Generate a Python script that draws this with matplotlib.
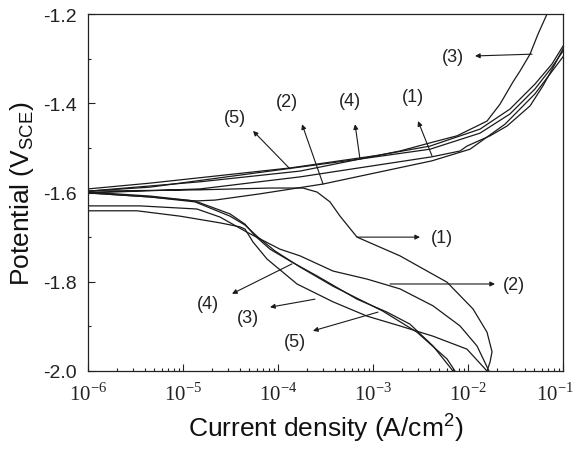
import matplotlib
matplotlib.use('Agg')
import matplotlib.pyplot as plt
import matplotlib.transforms as mtransforms
import numpy as np
from matplotlib.ticker import LogLocator, FuncFormatter, MultipleLocator

plt.rcParams['font.family'] = ['Liberation Sans', 'DejaVu Sans']
plt.rcParams['axes.unicode_minus'] = False
plt.rcParams['mathtext.fontset'] = 'custom'
plt.rcParams['mathtext.rm'] = 'Liberation Serif'
plt.rcParams['mathtext.sf'] = 'Liberation Sans'

# log10 of current density (A/cm2) and potential (V vs SCE), cathodic branch then anodic branch
logi_1 = [-1.800, -1.768, -1.747, -1.800, -1.947, -2.221, -2.716, -3.168, -3.347, -3.453, -3.589, -3.737, -4.084, -4.821, -6.0,
          -6.0, -4.821, -3.768, -2.379, -2.084, -2.011, -1.768, -1.589, -1.347, -1.211, -1.084, -1.0]
e_1 = [-2.000, -1.980, -1.957, -1.913, -1.861, -1.801, -1.742, -1.700, -1.653, -1.621, -1.599, -1.590, -1.590, -1.594, -1.597,
       -1.601, -1.592, -1.565, -1.520, -1.507, -1.496, -1.473, -1.451, -1.406, -1.361, -1.312, -1.278]

logi_2 = [-1.779, -1.905, -2.084, -2.368, -2.716, -3.063, -3.421, -3.768, -3.979, -4.326, -4.611, -4.853, -5.453, -6.0,
          -6.0, -5.347, -4.874, -4.663, -4.189, -3.526, -2.379, -1.979, -1.611, -1.295, -1.0]
e_2 = [-2.000, -1.944, -1.899, -1.854, -1.816, -1.794, -1.776, -1.742, -1.727, -1.689, -1.655, -1.637, -1.630, -1.630,
       -1.601, -1.610, -1.619, -1.617, -1.603, -1.581, -1.529, -1.503, -1.447, -1.379, -1.296]

logi_3 = [-1.800, -2.011, -2.368, -2.716, -3.063, -3.421, -3.800, -4.116, -4.263, -4.347, -4.400, -4.611, -5.032, -5.484, -6.0,
          -6.0, -4.821, -3.768, -2.716, -2.368, -2.116, -1.800, -1.663, -1.526, -1.453, -1.347, -1.263, -1.168]
e_3 = [-2.000, -1.951, -1.922, -1.899, -1.877, -1.845, -1.805, -1.749, -1.711, -1.682, -1.677, -1.668, -1.653, -1.641, -1.641,
       -1.597, -1.576, -1.552, -1.507, -1.487, -1.473, -1.440, -1.402, -1.352, -1.328, -1.290, -1.245, -1.200]

logi_4 = [-2.158, -2.368, -2.611, -2.853, -3.168, -3.589, -3.853, -4.084, -4.242, -4.347, -4.505, -4.874, -5.347, -6.0,
          -6.0, -5.347, -3.137, -2.400, -1.874, -1.558, -1.295, -1.116, -1.0]
e_4 = [-2.000, -1.944, -1.895, -1.868, -1.839, -1.787, -1.756, -1.727, -1.697, -1.671, -1.648, -1.619, -1.608, -1.599,
       -1.597, -1.588, -1.525, -1.503, -1.467, -1.424, -1.368, -1.319, -1.283]

logi_5 = [-2.137, -2.221, -2.537, -2.895, -3.421, -3.768, -4.032, -4.211, -4.347, -4.505, -4.874, -5.347, -6.0,
          -6.0, -5.347, -3.874, -2.926, -2.400, -1.874, -1.558, -1.295, -1.116, -1.0]
e_5 = [-2.000, -1.973, -1.913, -1.866, -1.810, -1.767, -1.731, -1.700, -1.673, -1.653, -1.621, -1.610, -1.601,
       -1.592, -1.579, -1.545, -1.516, -1.496, -1.458, -1.413, -1.357, -1.312, -1.272]

curves = [(logi_1, e_1), (logi_2, e_2), (logi_3, e_3), (logi_4, e_4), (logi_5, e_5)]

# labels: (text, arrow tail on curve, arrow head, label position) in (log10 i, E)
labels = [
    ('(5)', (-3.874, -1.547), (-4.263, -1.462), (-4.453, -1.433)),
    ('(2)', (-3.526, -1.581), (-3.747, -1.447), (-3.905, -1.397)),
    ('(4)', (-3.137, -1.525), (-3.189, -1.447), (-3.242, -1.393)),
    ('(1)', (-2.379, -1.518), (-2.526, -1.440), (-2.579, -1.384)),
    ('(3)', (-1.326, -1.290), (-1.926, -1.294), (-2.158, -1.296)),
    ('(1)', (-3.168, -1.700), (-2.505, -1.700), (-2.274, -1.700)),
    ('(2)', (-2.821, -1.805), (-1.716, -1.805), (-1.516, -1.807)),
    ('(4)', (-3.853, -1.760), (-4.484, -1.827), (-4.737, -1.848)),
    ('(3)', (-3.611, -1.839), (-4.084, -1.857), (-4.316, -1.879)),
    ('(5)', (-2.947, -1.868), (-3.632, -1.910), (-3.821, -1.933)),
]

fig = plt.figure(figsize=(5.78, 4.52), dpi=100)
ax = fig.add_axes([88 / 578, 80 / 452, 475 / 578, 357 / 452])

for lg, e in curves:
    ax.plot(10 ** np.array(lg), e, color='#1a1a1a', lw=0.9)

for txt, tail, head, pos in labels:
    ax.annotate('', xy=(10 ** head[0], head[1]), xytext=(10 ** tail[0], tail[1]),
                arrowprops=dict(arrowstyle='-|>', color='#1a1a1a', lw=0.8,
                                mutation_scale=7, shrinkA=0, shrinkB=0))
    ax.text(10 ** pos[0], pos[1], txt, fontsize=13, ha='center', va='center', color='#222222')

ax.set_xscale('log')
ax.set_xlim(1e-6, 1e-1)
ax.set_ylim(-2.0, -1.2)
ax.xaxis.set_major_locator(LogLocator(base=10, numticks=10))
ax.xaxis.set_minor_locator(LogLocator(base=10, subs=np.arange(2, 10), numticks=10))
ax.xaxis.set_major_formatter(FuncFormatter(lambda v, p: r'$10^{%d}$' % round(np.log10(v))))
ax.yaxis.set_major_locator(MultipleLocator(0.2))
ax.yaxis.set_minor_locator(MultipleLocator(0.1))
ax.yaxis.set_major_formatter(FuncFormatter(lambda v, p: '%.1f' % v))

ax.tick_params(which='both', direction='in', top=False, right=False, colors='#222222')
ax.tick_params(which='major', length=5, width=0.8, labelsize=14, pad=8)
ax.tick_params(axis='x', which='major', labelsize=15, pad=7)
ax.tick_params(which='minor', length=2.5, width=0.8)
for s in ax.spines.values():
    s.set_color('#222222')
    s.set_linewidth(0.9)

ax.set_xlabel(r'Current density (A/cm$^{\mathsf{2}}$)', fontsize=19, color='#111111', labelpad=5)
ax.set_ylabel(r'Potential (V$_{\mathsf{SCE}}$)', fontsize=19, color='#111111', labelpad=5)

# nudge the last x tick label so it stays inside the figure
fig.canvas.draw()
last = [t for t in ax.xaxis.get_major_ticks() if t.get_loc() >= 0.09 and t.get_loc() <= 0.11]
for t in last:
    t.label1.set_transform(t.label1.get_transform() +
                           mtransforms.ScaledTranslation(-6 / 72, 0, fig.dpi_scale_trans))

fig.savefig('out.png', dpi=100)
